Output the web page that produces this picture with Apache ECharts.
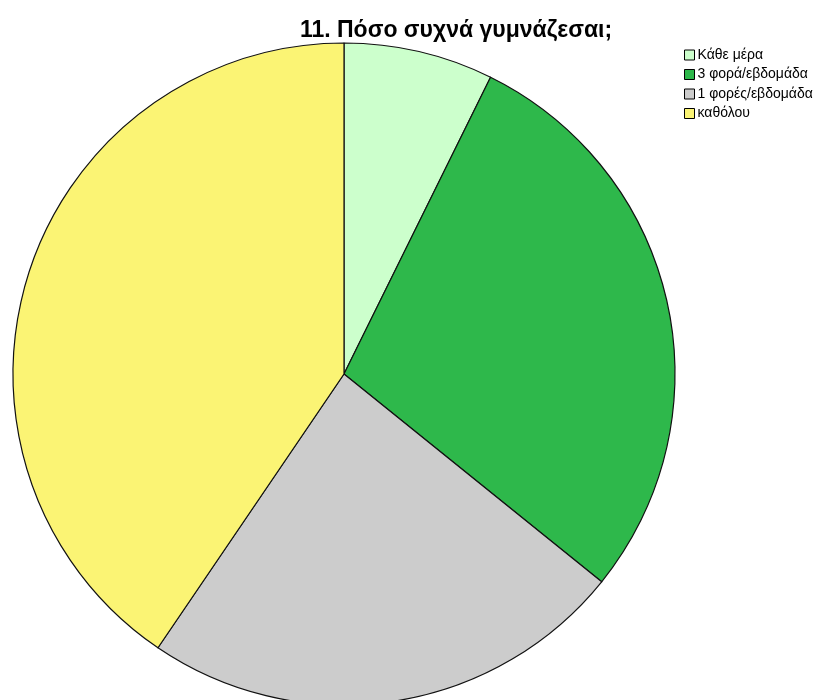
<!DOCTYPE html>
<html>
<head>
<meta charset="utf-8">
<script src="https://cdn.jsdelivr.net/npm/echarts@6/dist/echarts.min.js"></script>
<style>
html,body{margin:0;padding:0;background:#fff;}
#chart{width:826px;height:700px;}
</style>
</head>
<body>
<div id="chart"></div>
<script>
// Answers to "how often do you exercise", percentage of respondents
const categories = ['Κάθε μέρα', '3 φορά/εβδομάδα', '1 φορές/εβδομάδα', 'καθόλου'];
const shares = [7.3, 28.5, 23.7, 40.5];
const sliceColors = ['#CCFFCC', '#2EB84B', '#CCCCCC', '#FBF474'];

const chart = echarts.init(document.getElementById('chart'), null, { renderer: 'canvas' });

chart.setOption({
  animation: false,
  backgroundColor: '#ffffff',
  title: {
    text: '11. Πόσο συχνά γυμνάζεσαι;',
    left: 451,
    textAlign: 'center',
    top: 14,
    textStyle: {
      fontFamily: 'Liberation Sans, Arial, sans-serif',
      fontSize: 23,
      fontWeight: 'bold',
      color: '#000'
    }
  },
  legend: {
    orient: 'vertical',
    left: 679,
    top: 43,
    itemWidth: 10,
    itemHeight: 10,
    itemGap: 5.5,
    icon: 'rect',
    selectedMode: false,
    itemStyle: { borderColor: '#000', borderWidth: 1 },
    textStyle: {
      fontFamily: 'Liberation Sans, Arial, sans-serif',
      fontSize: 14,
      lineHeight: 14,
      color: '#000',
      padding: [0, 0, 0, -2]
    },
    data: categories
  },
  series: [{
    type: 'pie',
    center: [344, 374],
    radius: 331,
    startAngle: 90,
    clockwise: true,
    label: { show: false },
    labelLine: { show: false },
    emphasis: { disabled: true },
    itemStyle: { borderColor: '#111', borderWidth: 1.2 },
    data: categories.map((name, i) => ({
      name,
      value: shares[i],
      itemStyle: { color: sliceColors[i] }
    }))
  }]
});
</script>
</body>
</html>
